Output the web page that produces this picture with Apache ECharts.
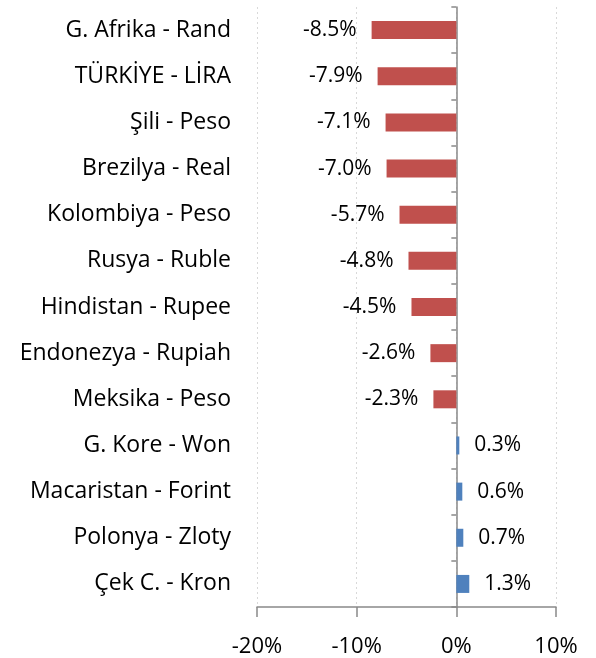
<!DOCTYPE html>
<html>
<head>
<meta charset="utf-8">
<script src="https://cdn.jsdelivr.net/npm/echarts@6/dist/echarts.min.js"></script>
<style>
html,body{margin:0;padding:0;background:#fff;}
#c{width:596px;height:658px;}
</style>
</head>
<body>
<div id="c"></div>
<script>
var categories = ["G. Afrika - Rand","TÜRKİYE - LİRA","Şili - Peso","Brezilya - Real","Kolombiya - Peso","Rusya - Ruble","Hindistan - Rupee","Endonezya - Rupiah","Meksika - Peso","G. Kore - Won","Macaristan - Forint","Polonya - Zloty","Çek C. - Kron"];
var values = [-8.5,-7.9,-7.1,-7.0,-5.7,-4.8,-4.5,-2.6,-2.3,0.3,0.6,0.7,1.3];
var xTicks = [-20,-10,0,10];

var FONT = "Open Sans";
var chart = echarts.init(document.getElementById('c'));
var data = values.map(function(v){
  return {
    value: v,
    itemStyle: {color: v < 0 ? '#C0504D' : '#4F81BD'},
    label: {position: v < 0 ? 'left' : 'right'}
  };
});
chart.setOption({
  animation: false,
  grid: {left: 257, right: 40, top: 7, bottom: 51, containLabel: false},
  xAxis: {
    type: 'value', min: xTicks[0], max: xTicks[xTicks.length-1], interval: 10,
    axisLine: {show: true, onZero: false, lineStyle: {color: '#898989', width: 1.5}},
    axisTick: {show: true, length: 10, lineStyle: {color: '#898989', width: 1.5}},
    axisLabel: {formatter: function(v){return v + '%';}, color: '#000', fontFamily: FONT, fontSize: 22, margin: 29},
    splitLine: {show: true, lineStyle: {color: '#d9d9d9', type: [2,3], width: 1}}
  },
  yAxis: [{
    type: 'category', data: categories, inverse: true, position: 'left',
    axisLine: {show: false, onZero: false}, axisTick: {show: false},
    axisLabel: {color: '#000', fontFamily: FONT, fontSize: 23, margin: 26, padding: [4,0,0,0]}
  },{
    type: 'category', data: categories, inverse: true, position: 'left',
    axisLine: {show: true, onZero: true, onZeroAxisIndex: 0, lineStyle: {color: '#898989', width: 1.5}},
    axisTick: {show: true, length: 5, lineStyle: {color: '#898989', width: 1.5}},
    axisLabel: {show: false}
  }],
  series: [{
    type: 'bar', data: data, yAxisIndex: 0, barWidth: 18,
    label: {show: true, distance: 15, color: '#000', fontFamily: FONT, fontSize: 21,
      formatter: function(p){return p.value.toFixed(1) + '%';}}
  }]
});
</script>
</body>
</html>
